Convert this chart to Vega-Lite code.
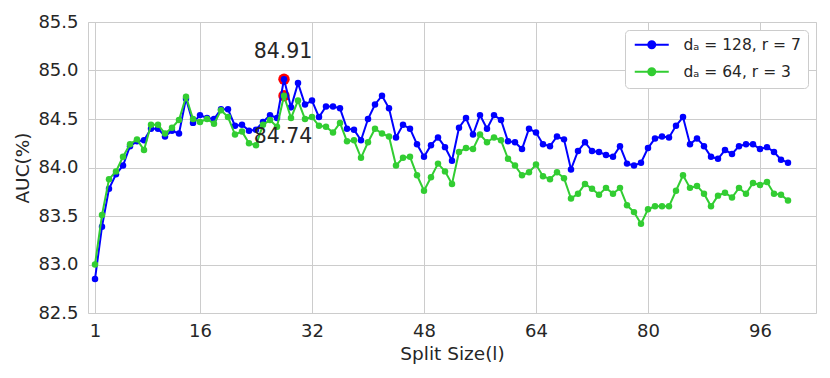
{
  "$schema": "https://vega.github.io/schema/vega-lite/v6.json",
  "width": 728,
  "height": 291,
  "autosize": {"type": "none"},
  "padding": {"left": 88, "top": 22, "right": 14, "bottom": 65},
  "background": "white",
  "config": {
    "font": "DejaVu Sans",
    "view": {"stroke": "#cccccc", "strokeWidth": 1},
    "axis": {
      "domain": false,
      "ticks": false,
      "grid": true,
      "gridColor": "#cccccc",
      "gridWidth": 1,
      "labelColor": "#262626",
      "titleColor": "#262626",
      "labelFont": "DejaVu Sans",
      "titleFont": "DejaVu Sans",
      "labelFontSize": 18,
      "titleFontSize": 18.5,
      "titleFontWeight": "normal"
    }
  },
  "datasets": {
    "series": [
      {"l":1,"s":"128","v":82.85},{"l":2,"s":"128","v":83.39},{"l":3,"s":"128","v":83.78},{"l":4,"s":"128","v":83.93},{"l":5,"s":"128","v":84.02},
      {"l":6,"s":"128","v":84.22},{"l":7,"s":"128","v":84.27},{"l":8,"s":"128","v":84.28},{"l":9,"s":"128","v":84.40},{"l":10,"s":"128","v":84.40},
      {"l":11,"s":"128","v":84.32},{"l":12,"s":"128","v":84.38},{"l":13,"s":"128","v":84.35},{"l":14,"s":"128","v":84.71},{"l":15,"s":"128","v":84.46},
      {"l":16,"s":"128","v":84.54},{"l":17,"s":"128","v":84.51},{"l":18,"s":"128","v":84.50},{"l":19,"s":"128","v":84.60},{"l":20,"s":"128","v":84.60},
      {"l":21,"s":"128","v":84.43},{"l":22,"s":"128","v":84.44},{"l":23,"s":"128","v":84.38},{"l":24,"s":"128","v":84.39},{"l":25,"s":"128","v":84.47},
      {"l":26,"s":"128","v":84.54},{"l":27,"s":"128","v":84.51},{"l":28,"s":"128","v":84.91},{"l":29,"s":"128","v":84.62},{"l":30,"s":"128","v":84.87},
      {"l":31,"s":"128","v":84.65},{"l":32,"s":"128","v":84.69},{"l":33,"s":"128","v":84.52},{"l":34,"s":"128","v":84.63},{"l":35,"s":"128","v":84.63},
      {"l":36,"s":"128","v":84.61},{"l":37,"s":"128","v":84.40},{"l":38,"s":"128","v":84.39},{"l":39,"s":"128","v":84.28},{"l":40,"s":"128","v":84.50},
      {"l":41,"s":"128","v":84.65},{"l":42,"s":"128","v":84.74},{"l":43,"s":"128","v":84.61},{"l":44,"s":"128","v":84.31},{"l":45,"s":"128","v":84.44},
      {"l":46,"s":"128","v":84.40},{"l":47,"s":"128","v":84.24},{"l":48,"s":"128","v":84.11},{"l":49,"s":"128","v":84.23},{"l":50,"s":"128","v":84.31},
      {"l":51,"s":"128","v":84.21},{"l":52,"s":"128","v":84.07},{"l":53,"s":"128","v":84.41},{"l":54,"s":"128","v":84.51},{"l":55,"s":"128","v":84.34},
      {"l":56,"s":"128","v":84.54},{"l":57,"s":"128","v":84.40},{"l":58,"s":"128","v":84.54},{"l":59,"s":"128","v":84.49},{"l":60,"s":"128","v":84.27},
      {"l":61,"s":"128","v":84.26},{"l":62,"s":"128","v":84.19},{"l":63,"s":"128","v":84.40},{"l":64,"s":"128","v":84.36},{"l":65,"s":"128","v":84.24},
      {"l":66,"s":"128","v":84.22},{"l":67,"s":"128","v":84.32},{"l":68,"s":"128","v":84.29},{"l":69,"s":"128","v":83.98},{"l":70,"s":"128","v":84.17},
      {"l":71,"s":"128","v":84.26},{"l":72,"s":"128","v":84.17},{"l":73,"s":"128","v":84.16},{"l":74,"s":"128","v":84.13},{"l":75,"s":"128","v":84.11},
      {"l":76,"s":"128","v":84.22},{"l":77,"s":"128","v":84.04},{"l":78,"s":"128","v":84.02},{"l":79,"s":"128","v":84.05},{"l":80,"s":"128","v":84.20},
      {"l":81,"s":"128","v":84.30},{"l":82,"s":"128","v":84.32},{"l":83,"s":"128","v":84.31},{"l":84,"s":"128","v":84.43},{"l":85,"s":"128","v":84.52},
      {"l":86,"s":"128","v":84.24},{"l":87,"s":"128","v":84.30},{"l":88,"s":"128","v":84.22},{"l":89,"s":"128","v":84.11},{"l":90,"s":"128","v":84.09},
      {"l":91,"s":"128","v":84.18},{"l":92,"s":"128","v":84.14},{"l":93,"s":"128","v":84.22},{"l":94,"s":"128","v":84.24},{"l":95,"s":"128","v":84.24},
      {"l":96,"s":"128","v":84.19},{"l":97,"s":"128","v":84.21},{"l":98,"s":"128","v":84.16},{"l":99,"s":"128","v":84.08},{"l":100,"s":"128","v":84.05},
      {"l":1,"s":"64","v":83.00},{"l":2,"s":"64","v":83.51},{"l":3,"s":"64","v":83.88},{"l":4,"s":"64","v":83.96},{"l":5,"s":"64","v":84.11},
      {"l":6,"s":"64","v":84.24},{"l":7,"s":"64","v":84.29},{"l":8,"s":"64","v":84.18},{"l":9,"s":"64","v":84.44},{"l":10,"s":"64","v":84.44},
      {"l":11,"s":"64","v":84.35},{"l":12,"s":"64","v":84.41},{"l":13,"s":"64","v":84.49},{"l":14,"s":"64","v":84.73},{"l":15,"s":"64","v":84.50},
      {"l":16,"s":"64","v":84.47},{"l":17,"s":"64","v":84.50},{"l":18,"s":"64","v":84.45},{"l":19,"s":"64","v":84.59},{"l":20,"s":"64","v":84.52},
      {"l":21,"s":"64","v":84.34},{"l":22,"s":"64","v":84.37},{"l":23,"s":"64","v":84.25},{"l":24,"s":"64","v":84.23},{"l":25,"s":"64","v":84.44},
      {"l":26,"s":"64","v":84.49},{"l":27,"s":"64","v":84.42},{"l":28,"s":"64","v":84.74},{"l":29,"s":"64","v":84.51},{"l":30,"s":"64","v":84.69},
      {"l":31,"s":"64","v":84.50},{"l":32,"s":"64","v":84.52},{"l":33,"s":"64","v":84.43},{"l":34,"s":"64","v":84.42},{"l":35,"s":"64","v":84.36},
      {"l":36,"s":"64","v":84.46},{"l":37,"s":"64","v":84.27},{"l":38,"s":"64","v":84.28},{"l":39,"s":"64","v":84.10},{"l":40,"s":"64","v":84.26},
      {"l":41,"s":"64","v":84.40},{"l":42,"s":"64","v":84.35},{"l":43,"s":"64","v":84.32},{"l":44,"s":"64","v":84.02},{"l":45,"s":"64","v":84.10},
      {"l":46,"s":"64","v":84.11},{"l":47,"s":"64","v":83.92},{"l":48,"s":"64","v":83.76},{"l":49,"s":"64","v":83.90},{"l":50,"s":"64","v":84.04},
      {"l":51,"s":"64","v":83.96},{"l":52,"s":"64","v":83.83},{"l":53,"s":"64","v":84.16},{"l":54,"s":"64","v":84.20},{"l":55,"s":"64","v":84.19},
      {"l":56,"s":"64","v":84.34},{"l":57,"s":"64","v":84.26},{"l":58,"s":"64","v":84.31},{"l":59,"s":"64","v":84.28},{"l":60,"s":"64","v":84.09},
      {"l":61,"s":"64","v":84.02},{"l":62,"s":"64","v":83.92},{"l":63,"s":"64","v":83.95},{"l":64,"s":"64","v":84.03},{"l":65,"s":"64","v":83.91},
      {"l":66,"s":"64","v":83.88},{"l":67,"s":"64","v":83.95},{"l":68,"s":"64","v":83.89},{"l":69,"s":"64","v":83.68},{"l":70,"s":"64","v":83.73},
      {"l":71,"s":"64","v":83.83},{"l":72,"s":"64","v":83.78},{"l":73,"s":"64","v":83.72},{"l":74,"s":"64","v":83.79},{"l":75,"s":"64","v":83.73},
      {"l":76,"s":"64","v":83.79},{"l":77,"s":"64","v":83.61},{"l":78,"s":"64","v":83.54},{"l":79,"s":"64","v":83.42},{"l":80,"s":"64","v":83.57},
      {"l":81,"s":"64","v":83.60},{"l":82,"s":"64","v":83.60},{"l":83,"s":"64","v":83.60},{"l":84,"s":"64","v":83.76},{"l":85,"s":"64","v":83.92},
      {"l":86,"s":"64","v":83.79},{"l":87,"s":"64","v":83.81},{"l":88,"s":"64","v":83.73},{"l":89,"s":"64","v":83.60},{"l":90,"s":"64","v":83.71},
      {"l":91,"s":"64","v":83.74},{"l":92,"s":"64","v":83.69},{"l":93,"s":"64","v":83.79},{"l":94,"s":"64","v":83.73},{"l":95,"s":"64","v":83.84},
      {"l":96,"s":"64","v":83.82},{"l":97,"s":"64","v":83.85},{"l":98,"s":"64","v":83.73},{"l":99,"s":"64","v":83.72},{"l":100,"s":"64","v":83.66}
    ],
    "ann": [
      {"l":28,"v":84.91,"t":"84.91"},
      {"l":28,"v":84.74,"t":"84.74"}
    ]
  },
  "data": {"name": "series"},
  "encoding": {
    "x": {
      "field": "l", "type": "quantitative",
      "scale": {"domain": [0, 104], "nice": false, "zero": false},
      "axis": {"values": [1,16,32,48,64,80,96], "title": "Split Size(l)", "labelPadding": 9, "titlePadding": 4}
    },
    "y": {
      "field": "v", "type": "quantitative",
      "scale": {"domain": [82.5, 85.5], "nice": false, "zero": false},
      "axis": {"values": [82.5,83,83.5,84,84.5,85,85.5], "format": ".1f", "title": "AUC(%)", "labelPadding": 10, "titlePadding": 5}
    }
  },
  "layer": [
    {
      "data": {"name": "ann"},
      "mark": {"type": "circle", "color": "red", "size": 130, "opacity": 1}
    },
    {
      "transform": [{"filter": "datum.s == '128'"}],
      "mark": {"type": "line", "strokeWidth": 2},
      "encoding": {
        "color": {
          "field": "s", "type": "nominal",
          "scale": {"domain": ["128", "64"], "range": ["#0000ff", "#32cd32"]},
          "legend": {
            "title": null,
            "orient": "top-right",
            "offset": 8,
            "fillColor": "white",
            "strokeColor": "#cccccc",
            "cornerRadius": 4,
            "padding": 7,
            "symbolType": "M-3.4,0H3.4M-0.7,0a0.7,0.7 0 1,0 1.4,0a0.7,0.7 0 1,0 -1.4,0",
            "symbolSize": 100,
            "symbolStrokeWidth": 2,
            "symbolOffset": 12,
            "labelOffset": 24,
            "labelFontSize": 15.5,
            "labelColor": "#262626",
            "rowPadding": 10,
            "labelExpr": "datum.label == '128' ? 'dₐ = 128, r = 7' : 'dₐ = 64, r = 3'",
            "encode": {
              "symbols": {
                "update": {
                  "fill": {"scale": "color", "field": "value"},
                  "stroke": {"scale": "color", "field": "value"}
                }
              }
            }
          }
        }
      }
    },
    {
      "transform": [{"filter": "datum.s == '128'"}],
      "mark": {"type": "circle", "size": 42, "opacity": 1},
      "encoding": {"color": {"field": "s", "type": "nominal"}}
    },
    {
      "transform": [{"filter": "datum.s == '64'"}],
      "mark": {"type": "line", "strokeWidth": 2},
      "encoding": {"color": {"field": "s", "type": "nominal"}}
    },
    {
      "transform": [{"filter": "datum.s == '64'"}],
      "mark": {"type": "circle", "size": 42, "opacity": 1},
      "encoding": {"color": {"field": "s", "type": "nominal"}}
    },
    {
      "data": {"name": "ann"},
      "transform": [{"filter": "datum.t == '84.91'"}],
      "mark": {"type": "text", "fontSize": 20.5, "color": "#262626", "dy": -27, "dx": -1, "baseline": "middle"},
      "encoding": {"text": {"field": "t"}}
    },
    {
      "data": {"name": "ann"},
      "transform": [{"filter": "datum.t == '84.74'"}],
      "mark": {"type": "text", "fontSize": 20.5, "color": "#262626", "dy": 41, "dx": -1, "baseline": "middle"},
      "encoding": {"text": {"field": "t"}}
    }
  ]
}
